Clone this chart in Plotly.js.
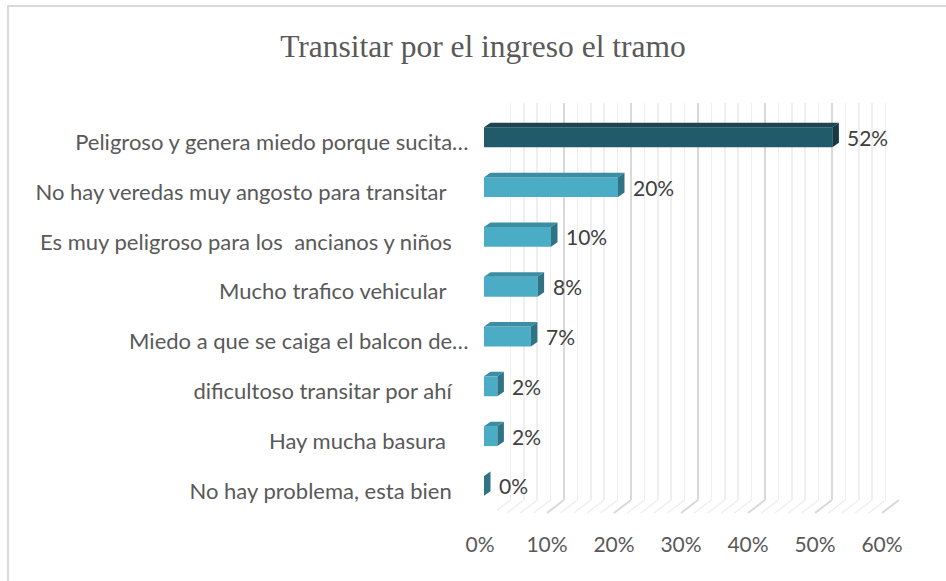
<!DOCTYPE html>
<html>
<head>
<meta charset="utf-8">
<script src="https://cdn.plot.ly/plotly-3.0.1.min.js"></script>
<style>html,body{margin:0;padding:0;background:#fff;}#chart{width:946px;height:581px;}</style>
</head>
<body>
<div id="chart"></div>
<script>
// ---- data ----
const categories = [
  "Peligroso y genera miedo porque sucita…",
  "No hay veredas muy angosto para transitar ",
  "Es muy peligroso para los  ancianos y niños",
  "Mucho trafico vehicular ",
  "Miedo a que se caiga el balcon de…",
  "dificultoso transitar por ahí",
  "Hay mucha basura ",
  "No hay problema, esta bien"
];
const values = [0.52, 0.20, 0.10, 0.08, 0.07, 0.02, 0.02, 0.00];
const xTickVals = [0, 0.1, 0.2, 0.3, 0.4, 0.5, 0.6];
const xTickText = ["0%", "10%", "20%", "30%", "40%", "50%", "60%"];
const chartTitle = "Transitar por el ingreso el tramo";

// ---- layout geometry (pixels) ----
const W = 946, H = 581;
const fx = p => p / W;
const fy = p => 1 - p / H;
const XMAX = 0.6;
// back wall
const BW = {x0: 497, x1: 899, top: 103, bottom: 500};
// bar plane
const BP = {x0: 484, x1: 886, top: 112.4, bottom: 510.8};
// front floor edge
const FF = {x0: 480, x1: 882, y: 513};
const n = categories.length;
const pxPerUnit = (BP.x1 - BP.x0) / XMAX;
const pxPerCat = (BP.bottom - BP.top) / n;
const barW = 0.40;
const depthX = 6.5 / pxPerUnit;    // data units
const depthY = 4.5 / pxPerCat;     // category units

const idx = categories.map((c, i) => i);
const NB = '\u00a0';
const tickText = categories.map(c => c.endsWith('…') ? c : c.replace(/ $/, NB) + NB + NB + NB);

const frontCol = values.map((v, i) => i === 0 ? '#215B69' : '#4BACC6');
const topCol   = values.map((v, i) => i === 0 ? '#1B4650' : '#3B8DA4');
const sideCol  = values.map((v, i) => i === 0 ? '#163A43' : '#2F7384');

const font = 'Lato, "Open Sans", sans-serif';

const traces = [
  // back wall grid holder
  {x: [0], y: [0], xaxis: 'x', yaxis: 'y', type: 'scatter', mode: 'markers',
   marker: {opacity: 0}, hoverinfo: 'skip', showlegend: false},
  // bars
  {x: values, y: idx, xaxis: 'x2', yaxis: 'y2', type: 'bar', orientation: 'h',
   width: barW, marker: {color: frontCol, line: {width: 0}}, hoverinfo: 'skip', showlegend: false},
  // front axis holder
  {x: [0], y: [0], xaxis: 'x3', yaxis: 'y2', type: 'scatter', mode: 'markers',
   marker: {opacity: 0}, hoverinfo: 'skip', showlegend: false}
];

const shapes = [];
// chart border
shapes.push({type: 'rect', xref: 'paper', yref: 'paper', x0: fx(8), x1: fx(980), y0: fy(6), y1: fy(620),
  line: {color: '#D9D9D9', width: 2}, fillcolor: 'rgba(0,0,0,0)', layer: 'below'});
// floor diagonals at every grid line
const floorDx = (BW.x0 - FF.x0) / pxPerUnit;
for (let k = 0; k <= 30; k++) {
  const v = k * 0.02;
  const major = k % 5 === 0;
  shapes.push({type: 'line', xref: 'x', yref: 'paper', x0: v, x1: v - floorDx,
    y0: fy(BW.bottom), y1: fy(FF.y), layer: 'below',
    line: {color: major ? '#D9D9D9' : '#EFEFEF', width: major ? 2 : 1.5}});
}
// 3D faces of bars
values.forEach((v, i) => {
  const yt = i - barW / 2, yb = i + barW / 2;
  shapes.push({type: 'path', xref: 'x2', yref: 'y2', layer: 'above',
    path: `M0,${yt} L${v},${yt} L${v + depthX},${yt - depthY} L${depthX},${yt - depthY} Z`,
    fillcolor: topCol[i], line: {width: 0}});
  shapes.push({type: 'path', xref: 'x2', yref: 'y2', layer: 'above',
    path: `M${v},${yt} L${v + depthX},${yt - depthY} L${v + depthX},${yb - depthY} L${v},${yb} Z`,
    fillcolor: sideCol[i], line: {width: 0}});
});

const annotations = values.map((v, i) => ({
  xref: 'x2', yref: 'y2', x: v, y: i, text: Math.round(v * 100) + '%',
  xanchor: 'left', yanchor: 'middle', xshift: 13, yshift: 0, showarrow: false,
  font: {family: font, size: 21, color: '#404040'}
}));

const layout = {
  width: W, height: H,
  margin: {l: 0, r: 0, t: 0, b: 0, pad: 0},
  paper_bgcolor: '#FFFFFF', plot_bgcolor: 'rgba(0,0,0,0)',
  showlegend: false,
  title: {text: chartTitle, x: fx(483), xanchor: 'center', y: fy(46), yanchor: 'middle',
    font: {family: '"Liberation Serif", "DejaVu Serif", serif', size: 31.5, color: '#595959'}},
  xaxis: {domain: [fx(BW.x0), fx(BW.x1)], range: [0, XMAX], anchor: 'y',
    showgrid: true, gridcolor: '#D9D9D9', gridwidth: 2, dtick: 0.1, tick0: 0,
    minor: {dtick: 0.02, showgrid: true, gridcolor: '#EFEFEF', gridwidth: 1.5},
    showticklabels: false, ticks: '', zeroline: false, showline: false, fixedrange: true},
  yaxis: {domain: [fy(BW.bottom), fy(BW.top)], range: [0, 1], anchor: 'x',
    showgrid: false, showticklabels: false, zeroline: false, showline: false, fixedrange: true},
  xaxis2: {domain: [fx(BP.x0), fx(BP.x1)], range: [0, XMAX], anchor: 'y2',
    showgrid: false, showticklabels: false, ticks: '', zeroline: false, showline: false, fixedrange: true},
  yaxis2: {domain: [fy(BP.bottom), fy(BP.top)], range: [n - 0.5, -0.5], anchor: 'free', position: fx(BP.x0),
    tickmode: 'array', tickvals: idx, ticktext: tickText,
    ticks: 'outside', ticklen: 11, tickcolor: 'rgba(0,0,0,0)', ticklabelshift: -5,
    tickfont: {family: font, size: 22, color: '#595959'},
    showgrid: false, zeroline: false, showline: false, fixedrange: true},
  xaxis3: {domain: [fx(FF.x0), fx(FF.x1)], range: [0, XMAX], anchor: 'free', position: fy(FF.y),
    tickmode: 'array', tickvals: xTickVals, ticktext: xTickText,
    ticks: 'outside', ticklen: 13, tickcolor: 'rgba(0,0,0,0)',
    tickfont: {family: font, size: 21, color: '#595959'},
    showgrid: false, zeroline: false, showline: false, fixedrange: true},
  shapes: shapes,
  annotations: annotations
};

Plotly.newPlot('chart', traces, layout, {displayModeBar: false, staticPlot: true});
</script>
</body>
</html>
